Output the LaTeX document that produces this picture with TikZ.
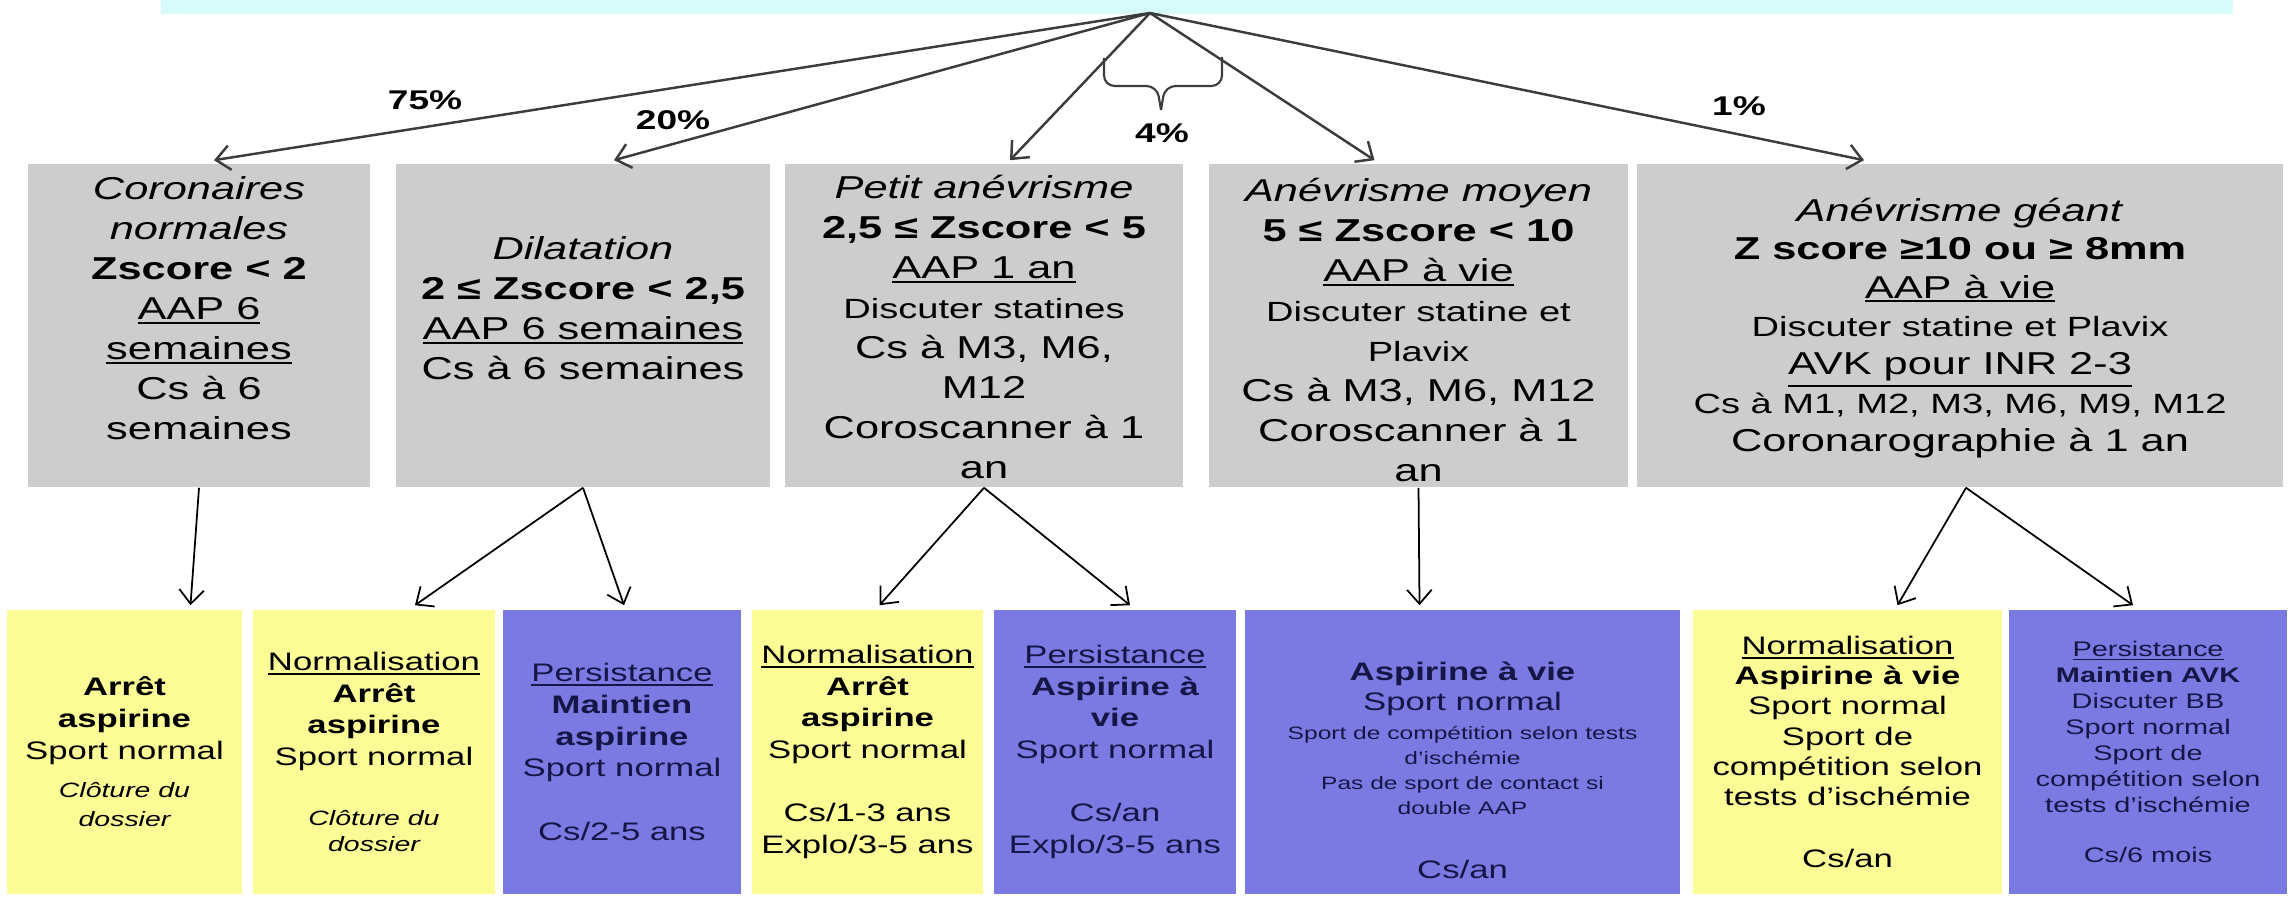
\documentclass[tikz,border=0pt]{standalone}
\usepackage{fontspec}
\setmainfont{Liberation Sans}[FakeStretch=1.37]
\usepackage{tikz}
\usetikzlibrary{arrows.meta,calc}

\setlength{\lineskiplimit}{-20pt}
\newsavebox{\boiteSoul}
\newcommand{\souligne}[1]{\sbox\boiteSoul{#1}\rlap{\rule[-1.2pt]{\wd\boiteSoul}{0.5pt}}\usebox\boiteSoul}
\newcommand{\petitTxt}{\fontsize{7.9}{10.6}\selectfont}
\newcommand{\notaTxt}{\fontsize{5.9}{8.2}\selectfont}
\newcommand{\miniTxt}{\fontsize{5.1}{6.6}\selectfont}

\begin{document}
\begin{tikzpicture}[x=0.01cm, y=-0.01cm,
    grisbox/.style={fill=grisclair, minimum height=3.23cm, inner sep=0pt},
    grisTxt/.style={align=center, inner sep=0pt, font=\fontsize{9}{11.4}\selectfont},
    jaunebox/.style={fill=jaunepale, minimum height=2.84cm, inner sep=0pt, align=center, font=\fontsize{7.2}{9}\selectfont},
    bleubox/.style={jaunebox, fill=bleuviolet, text=bleunuit},
    pct/.style={font=\bfseries\fontsize{7.7}{9}\selectfont},
    flecheHaut/.style={-{Straight Barb[length=4pt,width=7pt]}, line width=0.7pt, draw=grisfonce},
    flecheBas/.style={-{Straight Barb[length=4pt,width=7pt]}, line width=0.5pt}]

    % Colours of the slide
    \definecolor{grisclair}{RGB}{205,205,205}
    \definecolor{grisfonce}{RGB}{60,60,60}
    \definecolor{jaunepale}{RGB}{252,252,150}
    \definecolor{bleuviolet}{RGB}{122,122,226}
    \definecolor{bleunuit}{RGB}{22,22,70}
    \definecolor{cyanpale}{RGB}{215,251,251}

    \useasboundingbox (0,0) rectangle (2292,901);

    % Cyan banner (cut at the top)
    \fill[cyanpale] (161,0) rectangle (2233,14);
    \coordinate (sommet) at (1150,13);

    % Grey boxes: coronary status
    \node[grisbox, minimum width=3.42cm] (coro) at (199,325.5) {};
    \node[grisTxt] (coroTxt) at (199,308) {\textit{Coronaires}\\ \textit{normales}\\ \textbf{Zscore < 2}\\ \souligne{AAP 6}\\ \souligne{semaines}\\ Cs à 6\\ semaines};

    \node[grisbox, minimum width=3.74cm] (dila) at (583,325.5) {};
    \node[grisTxt] (dilaTxt) at (583,308) {\textit{Dilatation}\\ \textbf{2 ≤ Zscore < 2,5}\\ \souligne{AAP 6 semaines}\\ Cs à 6 semaines};

    \node[grisbox, minimum width=3.98cm] (petit) at (984,325.5) {};
    \node[grisTxt] (petitTxt) at (984,327) {\textit{Petit anévrisme}\\ \textbf{2,5 ≤ Zscore < 5}\\ \souligne{AAP 1 an}\\ {\petitTxt Discuter statines}\\ Cs à M3, M6,\\ M12\\ Coroscanner à 1\\ an};

    \node[grisbox, minimum width=4.19cm] (moyen) at (1418.5,325.5) {};
    \node[grisTxt] (moyenTxt) at (1418.5,330) {\textit{Anévrisme moyen}\\ \textbf{5 ≤ Zscore < 10}\\ \souligne{AAP à vie}\\ {\petitTxt Discuter statine et}\\ {\petitTxt Plavix}\\ Cs à M3, M6, M12\\ Coroscanner à 1\\ an};

    \node[grisbox, minimum width=6.46cm] (geant) at (1960,325.5) {};
    \node[grisTxt, font=\fontsize{9}{10.9}\selectfont] (geantTxt) at (1960,328) {\textit{Anévrisme géant}\\ \textbf{Z score ≥10 ou ≥ 8mm}\\ \souligne{AAP à vie}\\ {\petitTxt Discuter statine et Plavix}\\ \underline{AVK pour INR 2-3}\\ {\petitTxt Cs à M1, M2, M3, M6, M9, M12}\\ Coronarographie à 1 an};

    % Coloured boxes: follow-up
    \node[jaunebox, minimum width=2.35cm] (coroArret) at (124.5,752) {\textbf{Arrêt}\\ \textbf{aspirine}\\ Sport normal\\[2pt] {\notaTxt\itshape Clôture du}\\[-0.8pt] {\notaTxt\itshape dossier}};
    \node[jaunebox, minimum width=2.42cm] (dilaNorm) at (374,752) {\souligne{Normalisation}\\ \textbf{Arrêt}\\ \textbf{aspirine}\\ Sport normal\\[8pt] {\notaTxt\itshape Clôture du}\\[-1.5pt] {\notaTxt\itshape dossier}};
    \node[bleubox, minimum width=2.38cm] (dilaPers) at (622,752) {\souligne{Persistance}\\ \textbf{Maintien}\\ \textbf{aspirine}\\ Sport normal\\[9pt] Cs/2-5 ans};
    \node[jaunebox, minimum width=2.31cm] (petitNorm) at (867.5,752) {\souligne{Normalisation}\\ \textbf{Arrêt}\\ \textbf{aspirine}\\ Sport normal\\[9pt] Cs/1-3 ans\\ Explo/3-5 ans};
    \node[bleubox, minimum width=2.42cm] (petitPers) at (1115,752) {\souligne{Persistance}\\ \textbf{Aspirine à}\\ \textbf{vie}\\ Sport normal\\[9pt] Cs/an\\ Explo/3-5 ans};
    \node[bleubox, minimum width=4.35cm] (moyenVie) at (1462.5,752) {};
    \node[align=center, inner sep=0pt, text=bleunuit, font=\fontsize{7.2}{8.5}\selectfont] (moyenVieTxt) at (1462.5,770) {\textbf{Aspirine à vie}\\ Sport normal\\ {\miniTxt Sport de compétition selon tests}\\[-1.4pt] {\miniTxt d’ischémie}\\[-1.4pt] {\miniTxt Pas de sport de contact si}\\[-1.4pt] {\miniTxt double AAP}\\[9.5pt] Cs/an};
    \node[jaunebox, minimum width=3.09cm, font=\fontsize{7.2}{8.6}\selectfont] (geantNorm) at (1847.5,752) {\souligne{Normalisation}\\ \textbf{Aspirine à vie}\\ Sport normal\\ Sport de\\ compétition selon\\ tests d’ischémie\\[9pt] Cs/an};
    \node[bleubox, minimum width=2.78cm, font=\fontsize{6}{7.4}\selectfont] (geantPers) at (2148,752) {\souligne{Persistance}\\ \textbf{Maintien AVK}\\ Discuter BB\\ Sport normal\\ Sport de\\ compétition selon\\ tests d’ischémie\\[7pt] Cs/6 mois};

    % Arrows from the banner to the grey boxes
    \draw[flecheHaut] (sommet) -- ($(coro.north)+(15,-3)$);
    \draw[flecheHaut] (sommet) -- ($(dila.north)+(31,-3)$);
    \draw[flecheHaut] (sommet) -- ($(petit.north)+(26,-3)$);
    \draw[flecheHaut] (sommet) -- ($(moyen.north)+(-44,-3)$);
    \draw[flecheHaut] (sommet) -- ($(geant.north)+(-96,-3)$);

    % Brace grouping the two aneurysm arrows
    \draw[grisfonce, line width=0.6pt, rounded corners=3pt] (1104,58) -- (1104,86) -- (1157,86) -- (1161,110);
    \draw[grisfonce, line width=0.6pt, rounded corners=3pt] (1222,57) -- (1222,86) -- (1165,86) -- (1161,110);

    % Percentages
    \node[pct] (p75) at (425,100) {75\%};
    \node[pct] (p20) at (673,120) {20\%};
    \node[pct] (p4) at (1162,133) {4\%};
    \node[pct] (p1) at (1739,106) {1\%};

    % Arrows from the grey boxes to the follow-up boxes
    \draw[flecheBas] (coro.south) -- ($(coroArret.north)+(66,-4)$);
    \draw[flecheBas] (dila.south) -- ($(dilaNorm.north)+(41,-4)$);
    \draw[flecheBas] (dila.south) -- ($(dilaPers.north)+(2,-4)$);
    \draw[flecheBas] (petit.south) -- ($(petitNorm.north)+(12,-4)$);
    \draw[flecheBas] (petit.south) -- ($(petitPers.north)+(15,-4)$);
    \draw[flecheBas] (moyen.south) -- ($(moyenVie.north)+(-43,-4)$);
    \draw[flecheBas] ($(geant.south)+(6,0)$) -- ($(geantNorm.north)+(50,-4)$);
    \draw[flecheBas] ($(geant.south)+(6,0)$) -- ($(geantPers.north)+(-15,-4)$);

\end{tikzpicture}
\end{document}
